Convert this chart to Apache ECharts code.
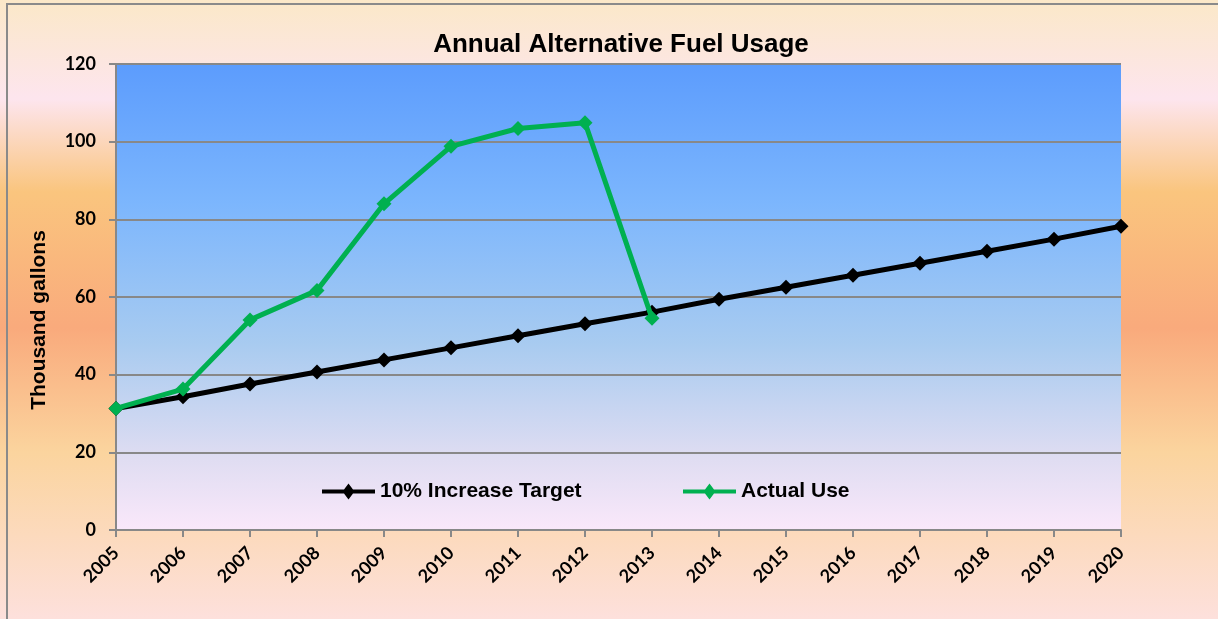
<!DOCTYPE html>
<html>
<head>
<meta charset="utf-8">
<title>Annual Alternative Fuel Usage</title>
<script src="https://cdn.jsdelivr.net/npm/echarts@6/dist/echarts.min.js"></script>
<style>
  html, body { margin: 0; padding: 0; }
  #chart { width: 1218px; height: 619px; }
</style>
</head>
<body>
<div id="chart"></div>
<script>
// data
const years = ['2005', '2006', '2007', '2008', '2009', '2010', '2011', '2012',
  '2013', '2014', '2015', '2016', '2017', '2018', '2019', '2020'];
const targetUse = [31.3, 34.3, 37.6, 40.7, 43.8, 46.9, 50.0, 53.1,
  56.1, 59.4, 62.5, 65.6, 68.7, 71.8, 74.9, 78.2];
const actualUse = [31.3, 36.3, 54.1, 61.7, 84.0, 98.8, 103.4, 104.9, 54.5];
const yTicks = [0, 20, 40, 60, 80, 100, 120];

const axisFont = { fontFamily: 'Lato', fontWeight: 'bold', fontSize: 18, color: '#000' };
const legendFont = { fontFamily: 'Liberation Sans', fontWeight: 'bold', fontSize: 21, color: '#000' };
// legend icon: thick line with a diamond in the middle
const lineDiamond = 'path://M0,6 L22,6 L26.5,0 L31,6 L53,6 L53,10 L31,10 L26.5,16 L22,10 L0,10 Z';

const chart = echarts.init(document.getElementById('chart'));

const option = {
  backgroundColor: new echarts.graphic.LinearGradient(0, 0, 0, 1, [
    { offset: 0, color: '#fbe8c8' },
    { offset: 0.16, color: '#fde5ee' },
    { offset: 0.31, color: '#fac57e' },
    { offset: 0.53, color: '#f9aa7c' },
    { offset: 0.73, color: '#fbd49e' },
    { offset: 1, color: '#fde0dc' }
  ]),
  animation: false,
  graphic: [{
    type: 'rect',
    shape: { x: 7, y: 4, width: 1230, height: 640 },
    style: { fill: null, stroke: '#8a8a8a', lineWidth: 2 },
    silent: true
  }],
  title: {
    text: 'Annual Alternative Fuel Usage',
    left: 616,
    textAlign: 'center',
    top: 27,
    textStyle: { fontFamily: 'Liberation Sans', fontWeight: 'bold', fontSize: 26, color: '#000' }
  },
  legend: [
    {
      data: ['10% Increase Target'],
      left: 322, top: 481,
      padding: 0,
      icon: lineDiamond,
      itemWidth: 53, itemHeight: 16, itemGap: 5,
      textStyle: legendFont
    },
    {
      data: ['Actual Use'],
      left: 683, top: 481,
      padding: 0,
      icon: lineDiamond,
      itemWidth: 53, itemHeight: 16, itemGap: 5,
      textStyle: legendFont
    }
  ],
  grid: {
    left: 116, right: 97, top: 64, bottom: 89,
    show: true,
    borderWidth: 0,
    backgroundColor: new echarts.graphic.LinearGradient(0, 0, 0, 1, [
      { offset: 0, color: '#5c9cfd' },
      { offset: 0.3, color: '#7cb6fd' },
      { offset: 0.6, color: '#a8cbf0' },
      { offset: 0.85, color: '#e0ddf2' },
      { offset: 1, color: '#fae8fa' }
    ])
  },
  xAxis: {
    type: 'category',
    data: years,
    boundaryGap: false,
    axisLine: { lineStyle: { color: '#888', width: 2 } },
    axisTick: { show: true, length: 7, lineStyle: { color: '#888', width: 2 }, alignWithLabel: true },
    axisLabel: Object.assign({ rotate: 45, margin: 20, interval: 0 }, axisFont),
    splitLine: { show: false }
  },
  yAxis: {
    type: 'value',
    min: yTicks[0],
    max: yTicks[yTicks.length - 1],
    interval: 20,
    name: 'Thousand gallons',
    nameLocation: 'middle',
    nameGap: 66,
    nameTextStyle: {
      fontFamily: 'Liberation Sans', fontWeight: 'bold', fontSize: 21, color: '#000',
      padding: [0, 46, 0, 0]
    },
    axisLine: { show: true, lineStyle: { color: '#888', width: 2 } },
    axisTick: { show: true, length: 7, lineStyle: { color: '#888', width: 2 } },
    axisLabel: Object.assign({ margin: 20 }, axisFont),
    splitLine: { lineStyle: { color: '#888', width: 2 } }
  },
  series: [
    {
      name: '10% Increase Target',
      type: 'line',
      data: targetUse,
      symbol: 'diamond',
      symbolSize: 15,
      lineStyle: { color: '#000', width: 5 },
      itemStyle: { color: '#000' },
      z: 2
    },
    {
      name: 'Actual Use',
      type: 'line',
      data: actualUse,
      symbol: 'diamond',
      symbolSize: 15,
      lineStyle: { color: '#00b050', width: 5 },
      itemStyle: { color: '#00b050' },
      z: 3
    }
  ]
};

chart.setOption(option);
</script>
</body>
</html>
